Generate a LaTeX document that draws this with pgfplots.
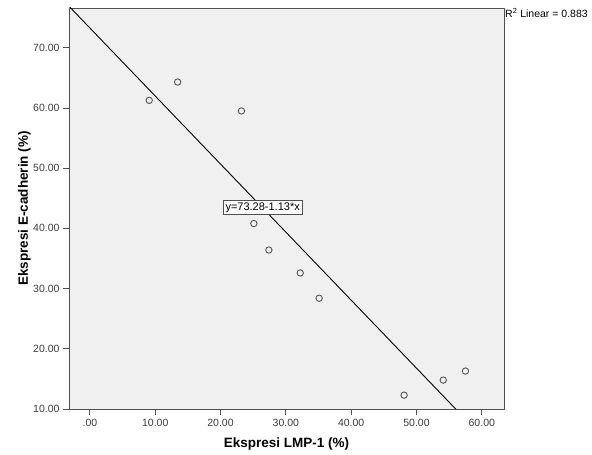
\documentclass[border=0pt]{standalone}
\usepackage{pgfplots}
\pgfplotsset{compat=1.18}
\usepackage{fontspec}
\setmainfont{Liberation Sans}

\definecolor{plotbg}{RGB}{240,240,240}
\definecolor{axisgray}{RGB}{80,80,80}
\definecolor{markgray}{RGB}{85,85,85}
\definecolor{textgray}{RGB}{60,60,60}

\begin{document}
\begin{tikzpicture}
\begin{axis}[
    scale only axis,
    width=435pt, height=401pt,
    at={(0,0)}, anchor=south west,
    xmin=-3.2, xmax=63.4,
    ymin=10, ymax=76.6,
    xtick={0,10,20,30,40,50,60},
    xticklabels={.00,10.00,20.00,30.00,40.00,50.00,60.00},
    ytick={10,20,30,40,50,60,70},
    yticklabels={10.00,20.00,30.00,40.00,50.00,60.00,70.00},
    xtick pos=bottom, ytick pos=left,
    tick align=outside,
    major tick length=6pt,
    tick style={axisgray, line width=0.8pt},
    axis line style={axisgray, line width=0.9pt},
    axis background/.style={fill=plotbg},
    ticklabel style={font=\fontsize{10.5}{12}\selectfont, text=textgray},
    xticklabel style={yshift=-1pt},
    /pgf/number format/assume math mode=true,
    xlabel={Ekspresi LMP-1 (\%)},
    ylabel={Ekspresi E-cadherin (\%)},
    xlabel style={font=\fontsize{13.5}{15}\selectfont\bfseries,
        at={(axis description cs:0.5,-0.0723)}, anchor=north, inner sep=0pt},
    ylabel style={font=\fontsize{13.5}{15}\selectfont\bfseries,
        at={(axis description cs:-0.0874,0.5)}, anchor=south, inner sep=0pt},
    clip mode=individual,
]
% observed cases
\addplot[only marks, mark=o, mark size=3.2pt, mark options={draw=markgray, line width=0.9pt}] coordinates {
    (9.08,61.26) (13.43,64.30) (23.20,59.50) (25.10,40.80) (27.40,36.40)
    (32.20,32.60) (35.10,28.40) (48.10,12.30) (54.10,14.80) (57.50,16.30)
};
% fit line y = 73.28 - 1.13x
\addplot[black, line width=0.9pt] coordinates {(-5,78.93) (57,8.87)};

\node[draw=axisgray, fill=white, inner sep=2pt, line width=0.6pt,
      font=\fontsize{11}{13}\selectfont] at (axis cs:26.45,43.45) {y=73.28-1.13*x};
\node[anchor=north west, inner sep=0pt, font=\fontsize{10.5}{12}\selectfont]
      at (rel axis cs:1,1) {\hspace{1pt}R\textsuperscript{2} Linear = 0.883};
\end{axis}
\path[use as bounding box] (-69pt,-46pt) rectangle (523pt,409pt);
\end{tikzpicture}
\end{document}
